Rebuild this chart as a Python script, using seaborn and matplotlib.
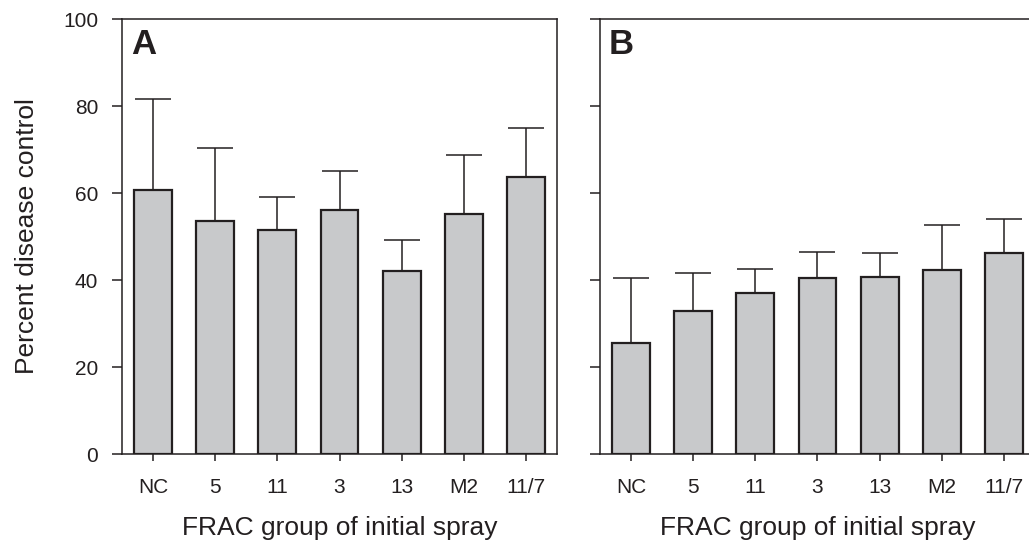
import matplotlib
matplotlib.use("Agg")
import matplotlib.pyplot as plt
import seaborn as sns

# FRAC groups and percent disease control (mean, upper error)
groups = ['NC', '5', '11', '3', '13', 'M2', '11/7']
control_a = [60.7, 53.5, 51.5, 56.0, 42.0, 55.1, 63.7]
err_a = [20.9, 16.8, 7.6, 9.0, 7.1, 13.6, 11.2]
control_b = [25.5, 32.9, 37.1, 40.4, 40.8, 42.4, 46.1]
err_b = [15.0, 8.8, 5.5, 6.1, 5.3, 10.2, 8.0]

sns.set_style("ticks")
plt.rcParams['font.family'] = ['Liberation Sans', 'DejaVu Sans']

ink = '#231f20'
fig = plt.figure(figsize=(10.29, 5.52), dpi=100)
ax_a = fig.add_axes([0.1186, 0.1775, 0.4227, 0.788])
ax_b = fig.add_axes([0.5831, 0.1775, 0.4227, 0.788])

for ax, vals, errs, letter in [(ax_a, control_a, err_a, 'A'),
                               (ax_b, control_b, err_b, 'B')]:
    sns.barplot(x=groups, y=vals, color='#c8c9cb', saturation=1,
                edgecolor=ink, linewidth=1.6, width=0.61, ax=ax, zorder=2)
    ax.errorbar(range(len(groups)), vals, yerr=errs, fmt='none',
                ecolor=ink, elinewidth=1.1, capsize=13, capthick=1.1, zorder=1)
    ax.set_xlim(-0.5, 6.5)
    ax.set_ylim(0, 100)
    ax.set_yticks([0, 20, 40, 60, 80, 100])
    for s in ax.spines.values():
        s.set_color(ink)
        s.set_linewidth(1.1)
    ax.tick_params(axis='y', direction='out', length=7.2, width=1.1,
                   color=ink, pad=10, labelsize=15, labelcolor=ink)
    ax.tick_params(axis='x', direction='out', length=5, width=1.1,
                   color=ink, pad=12, labelsize=15, labelcolor=ink)
    ax.set_xlabel('FRAC group of initial spray', fontsize=19, color=ink, labelpad=14)
    ax.text(0.02, 0.979, letter, transform=ax.transAxes, fontsize=25,
            fontweight='bold', va='top', ha='left', color=ink)

ax_a.set_ylabel('Percent disease control', fontsize=19, color=ink, labelpad=17)
ax_b.set_yticklabels([])
ax_b.set_ylabel('')

fig.savefig('out.png', dpi=100)
